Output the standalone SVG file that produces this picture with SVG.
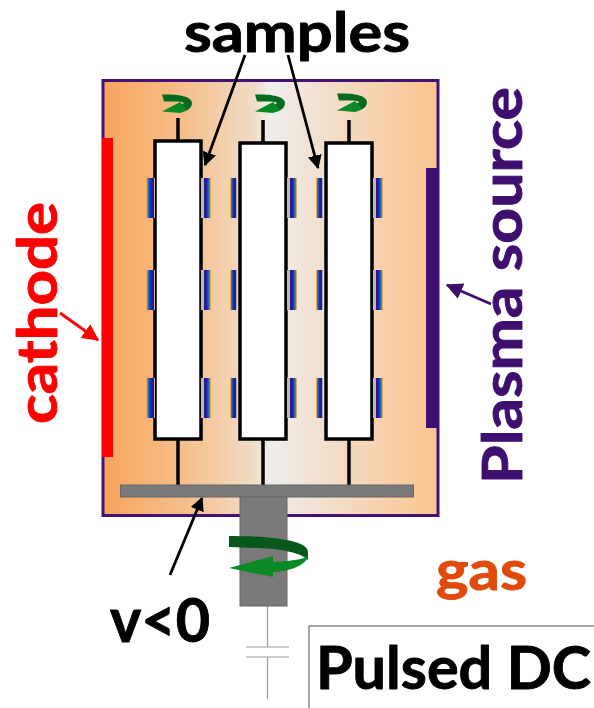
<svg xmlns="http://www.w3.org/2000/svg" width="594" height="708" viewBox="0 0 594 708">
<style>
text{font-family:Lato,"Open Sans","Liberation Sans",sans-serif;font-weight:700;stroke-width:0.900;stroke-linejoin:round}
.blk{fill:#000;stroke:#000}
.sample{fill:#fff;stroke:#000;stroke-width:3.500}
.rod{stroke:#000;stroke-width:3.500;fill:none}
.arr{stroke:#000;stroke-width:2.800;fill:none;marker-end:url(#ah)}
.thin{stroke:#999;stroke-width:1.200;fill:none}
.cl{fill:url(#c)}
.cr{fill:url(#c2)}
</style>
<defs>
<linearGradient id="g" x1="0" x2="1" y1="0" y2="0">
<stop offset="0" stop-color="#f8a45a"/><stop offset="0.25" stop-color="#f5c08e"/><stop offset="0.45" stop-color="#f0dcc6"/><stop offset="0.5" stop-color="#eeeeee"/><stop offset="0.6" stop-color="#f1e4d8"/><stop offset="1" stop-color="#fbc48e"/>
</linearGradient>
<linearGradient id="c" x1="0" x2="1" y1="0" y2="0">
<stop offset="0" stop-color="#f0a840"/><stop offset="0.12" stop-color="#f0a840"/><stop offset="0.2" stop-color="#1080e0"/><stop offset="0.5" stop-color="#1030b0"/><stop offset="0.75" stop-color="#3f1080"/><stop offset="0.85" stop-color="#3f1080"/><stop offset="0.9" stop-color="#aaa"/><stop offset="1" stop-color="#bbb"/>
</linearGradient>
<linearGradient id="c2" x1="1" x2="0" y1="0" y2="0">
<stop offset="0" stop-color="#f0a840"/><stop offset="0.08" stop-color="#f0a840"/><stop offset="0.15" stop-color="#1090f0"/><stop offset="0.4" stop-color="#1030b0"/><stop offset="0.6" stop-color="#3f1080"/><stop offset="0.7" stop-color="#3f1080"/><stop offset="0.75" stop-color="#bbb"/><stop offset="1" stop-color="#bbb"/>
</linearGradient>
<marker id="ah" markerWidth="5" markerHeight="5" refX="4.500" refY="2.500" orient="auto"><path d="M0 0L5 2.500L0 5Z" fill="#000"/></marker>
<marker id="ahr" markerWidth="6" markerHeight="6" refX="5.500" refY="3" orient="auto"><path d="M0 0L6 3L0 6Z" fill="#f00"/></marker>
<marker id="ahp" markerWidth="6" markerHeight="6" refX="5.500" refY="3" orient="auto"><path d="M0 0L6 3L0 6Z" fill="#3f0f70"/></marker>
<g id="rotor">
<path d="M-15 -18.500C-3 -19 14.500 -18 15 -10C15 -6 12 -3 8 -2L3 -8C7 -9 8 -10 5 -11C0 -12 -8 -11.500 -13 -11.500Z" fill="#066b20"/>
<path d="M-15 -1.500L3 -11L8 -6L9 -2L3 0Z" fill="#0a8a25"/>
</g>
</defs>

<g id="chamber"><rect x="103" y="80.500" width="335" height="435" fill="url(#g)" stroke="#44107a" stroke-width="3"/></g>
<g id="cathode"><rect x="102" y="138" width="11" height="319" fill="#f00"/></g>
<g id="plasma-source"><rect x="426" y="168" width="11" height="260" fill="#3f0f70"/></g>

<g id="connectors">
<path class="rod" d="M178 118V141M263 120V143M349 120V143M178 439V485M263 439V485M349 439V485"/>
<path class="thin" d="M267.500 606V647M246 647H289M246 657H289M267.500 657V699"/>
<path class="arr" d="M245 55L205 165"/>
<path class="arr" d="M288 55L318 168"/>
<path class="arr" d="M170 575L202 498"/>
<path d="M60 313L98 340" stroke="#f00" stroke-width="2.800" fill="none" marker-end="url(#ahr)"/>
<path d="M491 304L447 285" stroke="#3f0f70" stroke-width="2.800" fill="none" marker-end="url(#ahp)"/>
</g>

<g id="sample-1"><rect class="sample" x="155" y="141" width="46" height="298"/>
<rect class="cl" x="146" y="178" width="9" height="40"/><rect class="cr" x="201" y="178" width="10" height="40"/>
<rect class="cl" x="146" y="270" width="9" height="40"/><rect class="cr" x="201" y="270" width="10" height="40"/>
<rect class="cl" x="146" y="378" width="9" height="40"/><rect class="cr" x="201" y="378" width="10" height="40"/>
<use href="#rotor" x="177" y="113"/></g>
<g id="sample-2"><rect class="sample" x="240" y="143" width="46" height="296"/>
<rect class="cl" x="230" y="178" width="7" height="40"/><rect class="cr" x="287" y="178" width="10" height="40"/>
<rect class="cl" x="230" y="270" width="7" height="40"/><rect class="cr" x="287" y="270" width="10" height="40"/>
<rect class="cl" x="230" y="378" width="7" height="40"/><rect class="cr" x="287" y="378" width="10" height="40"/>
<use href="#rotor" x="270" y="113"/></g>
<g id="sample-3"><rect class="sample" x="326" y="143" width="46" height="296"/>
<rect class="cl" x="316" y="178" width="7" height="40"/><rect class="cr" x="373" y="178" width="10" height="40"/>
<rect class="cl" x="316" y="270" width="7" height="40"/><rect class="cr" x="373" y="270" width="10" height="40"/>
<rect class="cl" x="316" y="378" width="7" height="40"/><rect class="cr" x="373" y="378" width="10" height="40"/>
<use href="#rotor" x="352" y="112"/></g>

<g id="holder">
<rect x="120.500" y="485" width="293" height="12" fill="#7a7a7a" stroke="#666"/>
<rect x="240" y="497" width="47" height="109" fill="#7a7a7a" stroke="#666"/>
<path d="M229 536C255 536 308 538 308 552L308 560C295 548 260 548 229 547Z" fill="#06591a"/>
<path d="M308 555C308 566 285 572 273 572L273 577L229 568L273 556L273 562C288 561 305 560 308 555Z" fill="#0a8a25"/>
</g>

<g id="label-samples"><text x="184" y="52" font-size="55" class="blk" textLength="226" lengthAdjust="spacingAndGlyphs">samples</text></g>
<g id="label-cathode"><text transform="translate(57 424) rotate(-90)" font-size="56" fill="#f00" stroke="#f00" textLength="222" lengthAdjust="spacingAndGlyphs">cathode</text></g>
<g id="label-plasma"><text transform="translate(522 484) rotate(-90)" font-size="56" fill="#3f0f70" stroke="#3f0f70" textLength="397" lengthAdjust="spacingAndGlyphs">Plasma source</text></g>
<g id="label-gas"><text x="436" y="590" font-size="56" fill="#e04a0a" stroke="#e04a0a" textLength="91" lengthAdjust="spacingAndGlyphs">gas</text></g>
<g id="label-v"><text x="110" y="642" font-size="62" class="blk" textLength="100" lengthAdjust="spacingAndGlyphs">v&lt;0</text></g>
<g id="label-pulsed">
<path d="M309 708V626H594" fill="none" stroke="#888" stroke-width="1.500"/>
<text x="316" y="689" font-size="59" class="blk" textLength="275" lengthAdjust="spacingAndGlyphs">Pulsed DC</text></g>
</svg>
